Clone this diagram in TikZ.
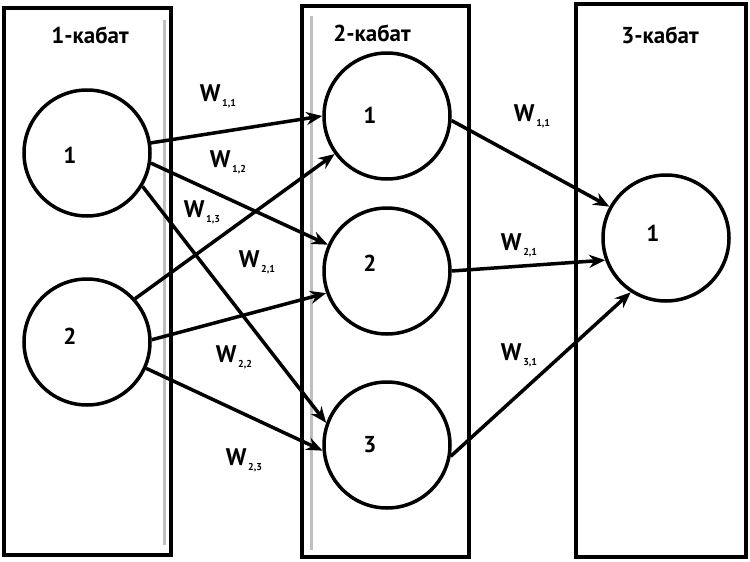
\documentclass[tikz,border=0pt]{standalone}
\usepackage{fontspec}
\setmainfont{PT Sans}
\usetikzlibrary{arrows.meta}
\newcommand{\wsub}[1]{\raisebox{-5pt}{\fontsize{10}{10}\selectfont\,#1}}
\begin{document}
\begin{tikzpicture}[x=1pt,y=-1pt,
  layerbox/.style={draw=black,line width=3.5pt},
  neuron/.style={circle,draw=black,line width=3.5pt,minimum size=126pt,inner sep=0pt,fill=white},
  ntext/.style={font=\bfseries\fontsize{23}{26}\selectfont,inner sep=0pt},
  title/.style={font=\bfseries\fontsize{23}{26}\selectfont,inner sep=0pt},
  wlabel/.style={font=\bfseries\fontsize{24}{26}\selectfont,inner sep=0pt},
  conn/.style={draw=black,line width=3.5pt,-{Stealth[length=16pt,width=13pt]}},
  greyline/.style={draw=black!25,line width=3pt}
]
\useasboundingbox (0,0) rectangle (750,562);
\fill[white] (0,0) rectangle (750,562);
% layer boxes
\draw[layerbox] (4,8) rectangle (171,555);
\draw[layerbox] (302,6) rectangle (469,557);
\draw[layerbox] (576,4) rectangle (746,557);
\draw[greyline] (164,20) -- (164,545);
\draw[greyline] (311,16) -- (311,550);
% titles
\node[title] (t1) at (90,35) {1-кабат};
\node[title] (t2) at (372,33) {2-кабат};
\node[title] (t3) at (660,35) {3-кабат};
% neurons
\node[neuron] (a1) at (87,153) {};
\node[neuron] (a2) at (87,342) {};
\node[neuron] (b1) at (387,116) {};
\node[neuron] (b2) at (387,271) {};
\node[neuron] (b3) at (387,445) {};
\node[neuron] (c1) at (666,238) {};
\node[ntext] (la1) at (70,155) {1};
\node[ntext] (la2) at (70,336) {2};
\node[ntext] (lb1) at (370,115) {1};
\node[ntext] (lb2) at (370,263) {2};
\node[ntext] (lb3) at (370,445) {3};
\node[ntext] (lc1) at (653,233) {1};
% connections
\draw[conn] (a1.9) -- (b1.180);
\draw[conn] (a1.-9) -- (b2.156);
\draw[conn] (a1.-31) -- (b3.160);
\draw[conn] (a2.42) -- (b1.216);
\draw[conn] (a2.2) -- (b2.200);
\draw[conn] (a2.-24) -- (b3.185);
\draw[conn] (b1.-4) -- (c1.151);
\draw[conn] (b2.0) -- (c1.200);
\draw[conn] (b3.-10) -- (c1.237);
% weights
\node[wlabel] (w11) at (218,96) {W\wsub{1,1}};
\node[wlabel] (w12) at (228,162) {W\wsub{1,2}};
\node[wlabel] (w13) at (202,212) {W\wsub{1,3}};
\node[wlabel] (w21) at (257,262) {W\wsub{2,1}};
\node[wlabel] (w22) at (234,357) {W\wsub{2,2}};
\node[wlabel] (w23) at (244,460) {W\wsub{2,3}};
\node[wlabel] (v11) at (532,116) {W\wsub{1,1}};
\node[wlabel] (v21) at (519,245) {W\wsub{2,1}};
\node[wlabel] (v31) at (519,355) {W\wsub{3,1}};
\end{tikzpicture}
\end{document}
